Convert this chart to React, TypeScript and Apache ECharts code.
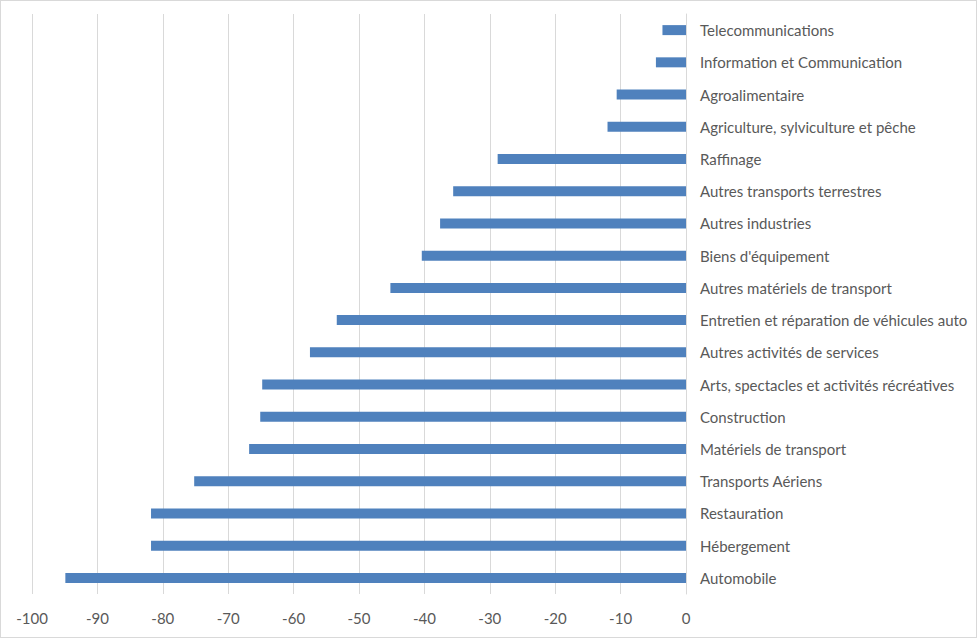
import React, { useEffect, useRef } from "react";
import * as echarts from "echarts";

const categories = [
  "Telecommunications",
  "Information et Communication",
  "Agroalimentaire",
  "Agriculture, sylviculture et pêche",
  "Raffinage",
  "Autres transports terrestres",
  "Autres industries",
  "Biens d'équipement",
  "Autres matériels de transport",
  "Entretien et réparation de véhicules auto",
  "Autres activités de services",
  "Arts, spectacles et activités récréatives",
  "Construction",
  "Matériels de transport",
  "Transports Aériens",
  "Restauration",
  "Hébergement",
  "Automobile",
];

const values = [
  -3.6, -4.6, -10.6, -12.0, -28.8, -35.6, -37.6, -40.4, -45.2, -53.4, -57.5,
  -64.8, -65.1, -66.8, -75.2, -81.8, -81.8, -94.9,
];

const xMin = -100;
const xMax = 0;
const xStep = 10;

export default function App() {
  const ref = useRef<HTMLDivElement>(null);
  useEffect(() => {
    document.body.style.margin = "0";
    if (!ref.current) return;
    const chart = echarts.init(ref.current, null, { renderer: "svg" });
    chart.setOption({
      animation: false,
      backgroundColor: "transparent",
      grid: { left: 32, right: 291, top: 14, bottom: 44, containLabel: false },
      xAxis: {
        type: "value",
        min: xMin,
        max: xMax,
        interval: xStep,
        axisLine: { show: false },
        axisTick: { show: false },
        splitLine: { show: true, lineStyle: { color: "#d9d9d9", width: 1 } },
        axisLabel: {
          color: "#595959",
          fontFamily: "Lato",
          fontSize: 15,
          margin: 16,
        },
      },
      yAxis: {
        type: "category",
        data: categories,
        inverse: true,
        position: "right",
        axisLine: { show: true, lineStyle: { color: "#d9d9d9", width: 1 } },
        axisTick: { show: false },
        splitLine: { show: false },
        axisLabel: {
          color: "#595959",
          fontFamily: "Lato",
          fontSize: 15,
          margin: 14,
          align: "left",
        },
      },
      series: [
        {
          type: "bar",
          data: values,
          barWidth: 10,
          itemStyle: { color: "#4f81bd" },
        },
      ],
    });
    return () => chart.dispose();
  }, []);
  return (
    <div
      style={{
        width: 977,
        height: 638,
        boxSizing: "border-box",
        border: "1px solid #d9d9d9",
        position: "relative",
        background: "#fff",
      }}
    >
      <div ref={ref} style={{ position: "absolute", left: -1, top: -1, width: 977, height: 638 }} />
    </div>
  );
}
